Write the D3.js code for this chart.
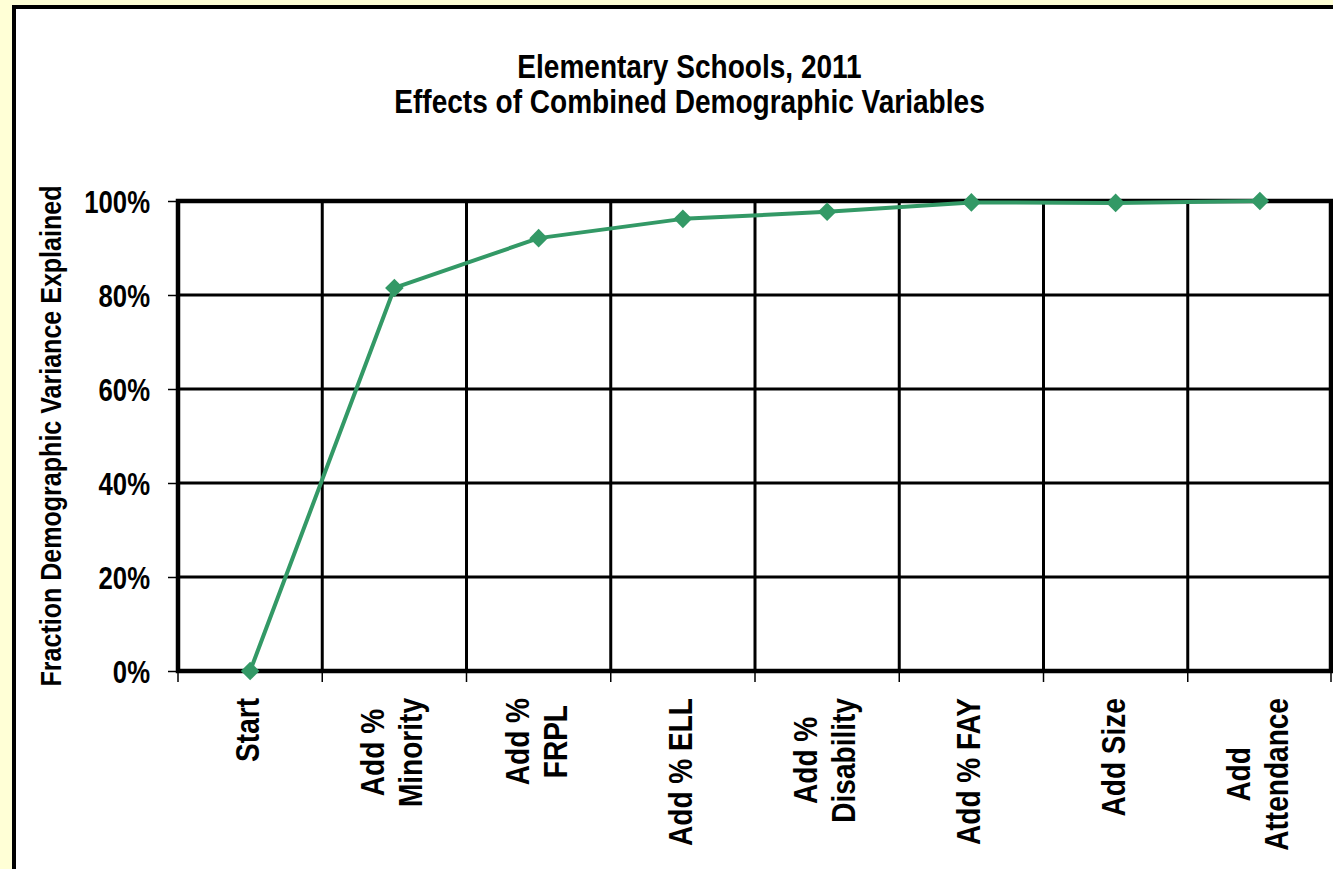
<!DOCTYPE html>
<html>
<head>
<meta charset="utf-8">
<script src="https://cdn.jsdelivr.net/npm/d3@7"></script>
<style>
  html, body { margin: 0; padding: 0; background: #FFFFD6; overflow: hidden; }
  svg { display: block; }
  text { font-family: "Liberation Sans", Arial, sans-serif; font-weight: bold; fill: #000; }
</style>
</head>
<body>
<div id="chart"></div>
<script>
const categories = ['Start', 'Add % Minority', 'Add % FRPL', 'Add % ELL', 'Add % Disability', 'Add % FAY', 'Add Size', 'Add Attendance']
// how each category label breaks into lines
const labelLines = [['Start'], ['Add %', 'Minority'], ['Add %', 'FRPL'], ['Add % ELL'], ['Add %', 'Disability'], ['Add % FAY'], ['Add Size'], ['Add', 'Attendance']]
const values = [0, 0.815, 0.921, 0.962, 0.977, 0.997, 0.996, 1.0]
const yTicks = [0, 0.2, 0.4, 0.6, 0.8, 1.0]
const titleLines = ['Elementary Schools, 2011', 'Effects of Combined Demographic Variables']
const yTitle = 'Fraction Demographic Variance Explained'

const width = 1333
const height = 869
const margin = { top: 201, right: 1, left: 178, bottom: 198 }
const green = '#339966'
// no narrow font installed, so squeeze the regular one
const narrow = 0.83

const svg = d3.select('#chart')
  .append('svg')
  .attr('width', width)
  .attr('height', height)

// white chart box with heavy border, running off the page
svg.append('rect')
  .attr('x', 14)
  .attr('y', 7)
  .attr('width', width + 20)
  .attr('height', height + 20)
  .style('fill', '#fff')
  .style('stroke', '#000')
  .style('stroke-width', 4)

const x = d3.scaleBand()
  .domain(categories)
  .range([margin.left, width - margin.right])
  .padding(0)

const y = d3.scaleLinear()
  .domain([0, 1])
  .range([height - margin.bottom, margin.top])

const cx = d => x(d) + x.bandwidth() / 2

// titles
svg.selectAll('.title')
  .data(titleLines)
  .enter()
  .append('text')
  .attr('class', 'title')
  .attr('transform', (d, i) => `translate(689.5,${78 + i * 35}) scale(0.85,1)`)
  .attr('text-anchor', 'middle')
  .style('font-size', '33px')
  .text(d => d)

// horizontal gridlines
svg.append('g')
  .selectAll('line')
  .data(yTicks)
  .enter()
  .append('line')
  .attr('x1', margin.left)
  .attr('x2', width - margin.right)
  .attr('y1', d => y(d))
  .attr('y2', d => y(d))
  .style('stroke', '#000')
  .style('stroke-width', 3)

// vertical separators between categories
svg.append('g')
  .selectAll('line')
  .data(categories)
  .enter()
  .append('line')
  .attr('x1', d => x(d) + x.bandwidth())
  .attr('x2', d => x(d) + x.bandwidth())
  .attr('y1', y(1))
  .attr('y2', y(0))
  .style('stroke', '#000')
  .style('stroke-width', 3)

// plot frame
svg.append('rect')
  .attr('x', margin.left)
  .attr('y', y(1))
  .attr('width', x.range()[1] - margin.left - 1)
  .attr('height', y(0) - y(1))
  .style('fill', 'none')
  .style('stroke', '#000')
  .style('stroke-width', 4.5)

// y axis
const yAxis = svg.append('g')
  .attr('transform', `translate(${margin.left},0)`)
  .call(d3.axisLeft(y).tickValues(yTicks).tickFormat(d3.format('.0%')).tickSize(10))
yAxis.select('.domain').remove()
yAxis.selectAll('.tick line').style('stroke', '#000').style('stroke-width', 1.5)
yAxis.selectAll('.tick text')
  .attr('x', null)
  .attr('dy', '0.36em')
  .attr('transform', `translate(-28,0) scale(${narrow},1)`)
  .style('font-size', '31px')

// x ticks at band edges
const edges = [margin.left].concat(categories.map(d => x(d) + x.bandwidth()))
svg.append('g')
  .selectAll('line')
  .data(edges)
  .enter()
  .append('line')
  .attr('x1', d => Math.min(d, width - 2))
  .attr('x2', d => Math.min(d, width - 2))
  .attr('y1', y(0))
  .attr('y2', y(0) + 11)
  .style('stroke', '#000')
  .style('stroke-width', 1.5)

// category labels, rotated, lines centred on one another
const labelTop = 698
const lineH = 38
const labelScale = 0.85
const labels = svg.append('g')
  .selectAll('g')
  .data(categories)
  .enter()
  .append('g')

labels.each(function(d, i) {
  const g = d3.select(this)
  const lines = labelLines[i]
  const t = g.append('text')
    .attr('text-anchor', 'middle')
    .style('font-size', '33px')
  lines.forEach((ln, j) => {
    t.append('tspan')
      .attr('x', 0)
      .attr('y', 9 + (j - (lines.length - 1) / 2) * lineH)
      .text(ln)
  })
  let maxW = 0
  t.selectAll('tspan').each(function() { maxW = Math.max(maxW, this.getComputedTextLength()) })
  g.attr('transform', `translate(${cx(d)},${labelTop + maxW * labelScale / 2}) rotate(-90) scale(${labelScale},1)`)
})

// y axis title
svg.append('text')
  .attr('transform', `translate(61,436) rotate(-90) scale(0.835,1)`)
  .attr('text-anchor', 'middle')
  .style('font-size', '30px')
  .text(yTitle)

// series line and diamonds
const line = d3.line()
  .x((d, i) => cx(categories[i]))
  .y(d => y(d))

svg.append('path')
  .datum(values)
  .attr('d', line)
  .style('fill', 'none')
  .style('stroke', green)
  .style('stroke-width', 4)
  .style('stroke-linejoin', 'round')

svg.append('g')
  .selectAll('path')
  .data(values)
  .enter()
  .append('path')
  .attr('d', d3.symbol().type(d3.symbolDiamond2).size(220))
  .attr('transform', (d, i) => `translate(${cx(categories[i])},${y(d)})`)
  .style('fill', green)
</script>
</body>
</html>
